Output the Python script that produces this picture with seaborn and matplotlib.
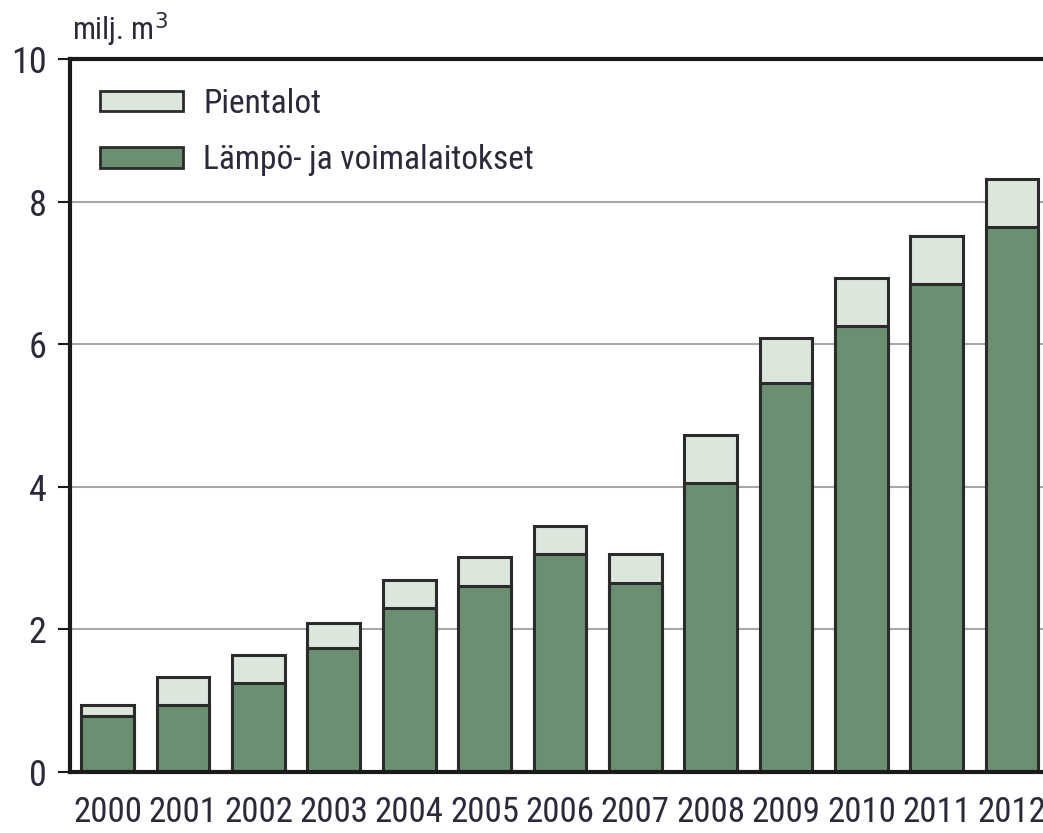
import matplotlib
matplotlib.use("Agg")
import matplotlib.pyplot as plt
import matplotlib.font_manager as fm
from matplotlib.patches import Patch
import seaborn as sns
import pandas as pd
import os

years = ["2000", "2001", "2002", "2003", "2004", "2005", "2006",
         "2007", "2008", "2009", "2010", "2011", "2012"]
lampo = [0.79, 0.94, 1.25, 1.74, 2.30, 2.61, 3.06, 2.65, 4.05, 5.46, 6.26, 6.84, 7.64]
pientalot = [0.15, 0.39, 0.39, 0.35, 0.39, 0.41, 0.39, 0.41, 0.68, 0.63, 0.67, 0.68, 0.68]
legend_labels = ["Pientalot", "Lämpö- ja voimalaitokset"]
y_label = "milj. m$^3$"

sns.set_theme(style="white")
plt.rcParams["font.family"] = ["Liberation Sans", "DejaVu Sans"]

# look for a condensed sans font
cond_path = None
prefs = ["liberationsansnarrow-regular", "robotocondensed-regular", "roboto_condensed-regular",
         "dejavusanscondensed.", "opensans_condensed-regular", "opensanscondensed"]
files = [f.fname for f in fm.fontManager.ttflist]
for p in prefs:
    for f in files:
        if p in os.path.basename(f).lower():
            cond_path = f
            break
    if cond_path:
        break


def fp(size):
    if cond_path:
        return fm.FontProperties(fname=cond_path, size=size)
    return fm.FontProperties(family=["Liberation Sans", "DejaVu Sans"], size=size * 0.82)


df = pd.DataFrame({"year": years, "lampo": lampo,
                   "total": [a + b for a, b in zip(lampo, pientalot)]})

light = "#dce6dd"
green = "#6a8f72"
edge = "#2b2b2b"
txt = "#2a2a3a"

fig = plt.figure(figsize=(10.43, 8.33), dpi=100)
ax = fig.add_axes([70 / 1043, 61 / 833, 1 - 70 / 1043, 713 / 833])

sns.barplot(data=df, x="year", y="total", color=light, edgecolor=edge,
            linewidth=2.2, width=0.7, saturation=1, ax=ax)
sns.barplot(data=df, x="year", y="lampo", color=green, edgecolor=edge,
            linewidth=2.2, width=0.7, saturation=1, ax=ax)

ax.set_xlim(-0.5, 12.41)
ax.set_ylim(0, 10)
ax.set_yticks([0, 2, 4, 6, 8, 10])
ax.yaxis.grid(True, color="#a8a8a8", linewidth=1.5)
ax.set_axisbelow(True)
ax.set_xlabel("")
ax.set_ylabel("")
for s in ["top", "left", "bottom"]:
    ax.spines[s].set_color("#1a1a1a")
    ax.spines[s].set_linewidth(3)
ax.spines["right"].set_visible(False)
ax.tick_params(axis="y", which="both", left=True, length=9, width=1.5,
               color="#1a1a1a", labelcolor=txt, pad=8)
ax.tick_params(axis="x", bottom=False, labelcolor=txt, pad=11)
for lbl in ax.get_xticklabels():
    lbl.set_fontproperties(fp(25))
for lbl in ax.get_yticklabels():
    lbl.set_fontproperties(fp(26))

handles = [Patch(facecolor=light, edgecolor=edge, linewidth=2),
           Patch(facecolor=green, edgecolor=edge, linewidth=2)]
leg = ax.legend(handles, legend_labels, loc="upper left", bbox_to_anchor=(0.0, 1.002),
                frameon=False, prop=fp(24), handlelength=2.5, handleheight=0.57,
                handletextpad=0.6, labelspacing=0.74)
for t in leg.get_texts():
    t.set_color(txt)

fig.text(72 / 1043, 1 - 40 / 833, y_label, fontproperties=fp(22), color=txt,
         ha="left", va="baseline")

fig.savefig("out.png", dpi=100)
